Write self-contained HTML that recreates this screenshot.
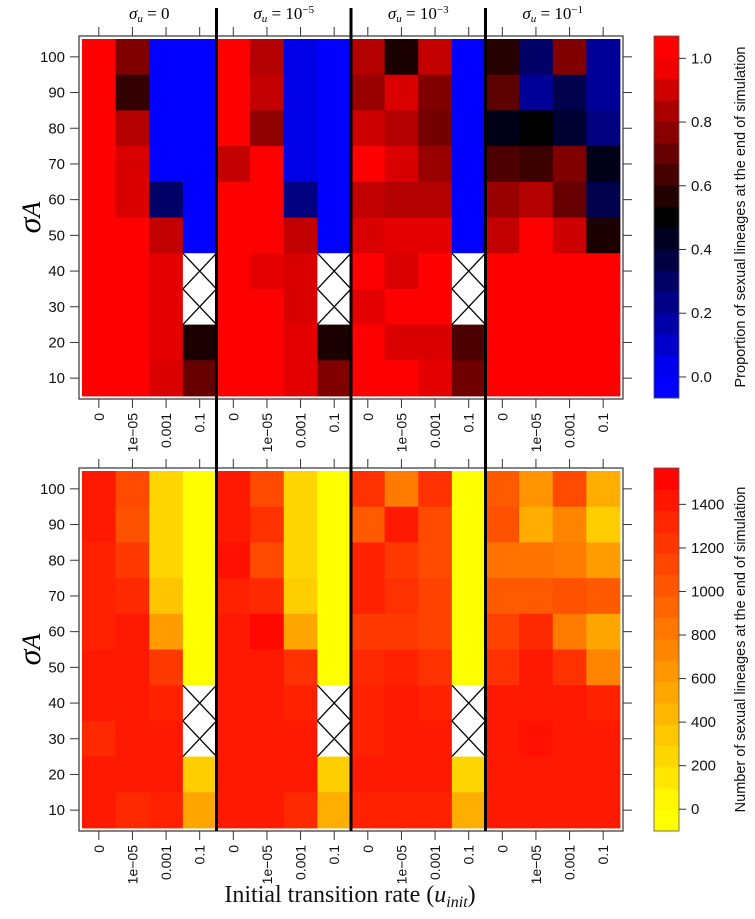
<!DOCTYPE html>
<html><head><meta charset="utf-8"><style>
body{margin:0;background:#fff;}
svg{display:block;font-family:"Liberation Sans",sans-serif;}
</style></head><body>
<svg id="chart" width="755" height="919" viewBox="0 0 755 919" xmlns="http://www.w3.org/2000/svg"></svg>
<script>
const groups = ["0","-5","-3","-1"];
const xLabels = ["0","1e\u221205","0.001","0.1"];
const yLabels = [100,90,80,70,60,50,40,30,20,10];
// proportion (top) – columns ordered group-major, each array rows 100..10; null = missing
const propData = [
 [1,1,1,1,1,1,1,1,1,1],
 [0.75,0.6,0.85,0.93,0.93,1,1,1,1,1],
 [0,0,0,0,0.3,0.88,0.95,0.95,0.95,0.93],
 [0,0,0,0,0,0,null,null,0.55,0.7],
 [1,1,1,0.88,1,1,1,1,1,1],
 [0.85,0.88,0.78,1,1,1,0.95,1,1,1],
 [0.05,0.05,0.05,0.05,0.25,0.88,0.93,0.93,0.95,0.95],
 [0,0,0,0,0,0,null,null,0.55,0.75],
 [0.85,0.8,0.9,1,0.88,0.93,1,0.95,1,1],
 [0.55,0.93,0.85,0.93,0.85,0.95,0.93,1,0.93,1],
 [0.88,0.75,0.73,0.8,0.85,0.95,1,1,0.93,0.95],
 [0,0,0,0,0,0,null,null,0.65,0.72],
 [0.57,0.68,0.45,0.65,0.8,0.88,1,1,1,1],
 [0.3,0.2,0.5,0.62,0.85,1,1,1,1,1],
 [0.75,0.35,0.4,0.75,0.7,0.9,1,1,1,1],
 [0.2,0.2,0.25,0.45,0.35,0.55,1,1,1,1]
];
const countData = [
 [1400,1400,1350,1350,1350,1400,1400,1300,1400,1400],
 [1100,1050,1200,1300,1400,1400,1400,1400,1400,1300],
 [250,250,250,350,600,1200,1350,1400,1400,1350],
 [0,0,0,0,0,0,null,null,300,550],
 [1400,1400,1450,1350,1400,1400,1400,1400,1400,1400],
 [1100,1250,1100,1300,1500,1400,1400,1400,1400,1400],
 [250,250,250,300,550,1250,1350,1400,1400,1300],
 [0,0,0,0,0,0,null,null,300,500],
 [1250,1000,1350,1350,1200,1300,1350,1350,1400,1350],
 [800,1400,1200,1250,1200,1350,1400,1400,1400,1350],
 [1250,1100,1100,1150,1150,1250,1350,1400,1400,1350],
 [0,0,0,0,0,0,null,null,250,500],
 [1000,1050,850,1000,1150,1250,1400,1400,1400,1400],
 [650,500,850,1000,1300,1400,1400,1450,1400,1400],
 [1100,750,800,1050,800,1250,1400,1400,1400,1400],
 [500,300,600,1000,550,750,1350,1400,1400,1400]
];
const propTicks = [0,0.2,0.4,0.6,0.8,1.0];
const countTicks = [0,200,400,600,800,1000,1200,1400];

const NS="http://www.w3.org/2000/svg";
const svg=document.getElementById('chart');
function el(tag,attrs,parent){const e=document.createElementNS(NS,tag);for(const k in attrs)e.setAttribute(k,attrs[k]);(parent||svg).appendChild(e);return e;}
const X0=82,CW=(620-82)/16;
function xCol(i){return X0+i*CW;}
function propColor(v){
  if(v<0.5){const t=Math.max(0,v)/0.5;return `rgb(0,0,${Math.round(255*(1-t))})`;}
  const t=Math.min(1,(v-0.5)/0.5);return `rgb(${Math.round(255*t)},0,0)`;
}
function countColor(v){const t=Math.max(0,Math.min(1,v/1550));return `rgb(255,${Math.round(255*(1-t))},0)`;}

function panel(name,data,top,colorFn){
  const bottom=top+357, RH=(bottom-top)/10;
  function yRow(r){return top+r*RH;}
  const g=el('g',{});
  
  
  el('rect',{x:79,y:top-3,width:544,height:363,fill:'#fff',stroke:'#333','stroke-width':1.2},g);
  data.forEach((col,c)=>{
    col.forEach((v,r)=>{
      const x=xCol(c),y=yRow(r);
      if(v===null){
        const cell=el('rect',{x:x,y:y,width:CW,height:RH,fill:'#fff'},g);
        
        
        el('path',{d:`M${x} ${y}L${x+CW} ${y+RH}M${x+CW} ${y}L${x} ${y+RH}`,stroke:'#000','stroke-width':1.3,fill:'none'},g);
      } else {
        const cell=el('rect',{x:x,y:y,width:CW+0.4,height:RH+0.4,fill:colorFn(v)},g);
        
        
      }
    });
  });
  yLabels.forEach((lab,r)=>{
    const yc=yRow(r)+RH/2;
    el('line',{x1:70,x2:79,y1:yc,y2:yc,stroke:'#333'},g);
    el('line',{x1:623,x2:632,y1:yc,y2:yc,stroke:'#333'},g);
    const t=el('text',{x:65,y:yc+5,'text-anchor':'end','font-size':15,fill:'#111'},g);
    t.textContent=lab;
    
    
  });
  for(let c=0;c<16;c++){
    const xc=xCol(c)+CW/2;
    el('line',{x1:xc,x2:xc,y1:top-12,y2:top-3,stroke:'#333'},g);
    el('line',{x1:xc,x2:xc,y1:bottom+3,y2:bottom+12,stroke:'#333'},g);
    const t=el('text',{x:0,y:0,'text-anchor':'end','font-size':14,fill:'#111',transform:`translate(${xc+5},${bottom+17}) rotate(-90)`},g);
    t.textContent=xLabels[c%4];
    
    
  }
  const ya=el('text',{x:0,y:0,'text-anchor':'middle','font-size':32,'font-style':'italic','font-family':'"Liberation Serif",serif',transform:`translate(40,${(top+bottom)/2}) rotate(-90)`},g);
  ya.innerHTML='σ<tspan font-size="26">A</tspan>';
  
  
  return {top,bottom};
}
function colorbar(name,top,bottom,vmin,vmax,ticks,colorFn,title,nseg){
  const g=el('g',{});
  
  
  const h=bottom-top;
  function yv(v){return bottom-(v-vmin)/(vmax-vmin)*h;}
  for(let i=0;i<nseg;i++){
    const v0=vmin+(vmax-vmin)*i/nseg, v1=vmin+(vmax-vmin)*(i+1)/nseg;
    const s=el('rect',{x:654,y:yv(v1),width:25,height:yv(v0)-yv(v1)+0.5,fill:colorFn((v0+v1)/2)},g);
    
    
  }
  el('rect',{x:654,y:top,width:25,height:h,fill:'none',stroke:'#555','stroke-width':0.8},g);
  ticks.forEach(v=>{
    const y=yv(v);
    el('line',{x1:679,x2:686,y1:y,y2:y,stroke:'#333'},g);
    const t=el('text',{x:691,y:y+5,'font-size':15,fill:'#111'},g);
    t.textContent=(vmax<2)?v.toFixed(1):String(v);
    
    
  });
  const t=el('text',{x:0,y:0,'text-anchor':'middle','font-size':14.5,fill:'#111',transform:`translate(745,${(top+bottom)/2}) rotate(-90)`},g);
  t.textContent=title;
  
  
}
panel('proportion',propData,39,propColor);
panel('count',countData,471,countColor);
colorbar('proportion-colorbar',36,398,-0.066,1.07,propTicks,propColor,'Proportion of sexual lineages at the end of simulation',17);
colorbar('count-colorbar',468,831,-100,1567,countTicks,countColor,'Number of sexual lineages at the end of simulation',17);
[1,2,3].forEach(k=>{
  const x=xCol(k*4);
  const l=el('line',{x1:x,x2:x,y1:8,y2:831,stroke:'#000','stroke-width':3});
  
  
});
groups.forEach((gname,k)=>{
  const xc=xCol(k*4)+2*CW;
  const t=el('text',{x:xc,y:19,'text-anchor':'middle','font-size':17,'font-family':'"Liberation Serif",serif'});
  t.innerHTML='<tspan font-style="italic">σ</tspan><tspan font-style="italic" font-size="11" dy="3">u</tspan><tspan dy="-3"> = '+(gname==="0"?'0':'10</tspan><tspan font-size="11" dy="-6">'+gname.replace('-','\u2212'))+'</tspan>';
  
  
});
const xt=el('text',{x:350,y:902,'text-anchor':'middle','font-size':24,'font-family':'"Liberation Serif",serif',fill:'#111'});
xt.innerHTML='Initial transition rate (<tspan font-style="italic">u</tspan><tspan font-style="italic" font-size="16" dy="5">init</tspan><tspan dy="-5">)</tspan>';


</script>
</body></html>
